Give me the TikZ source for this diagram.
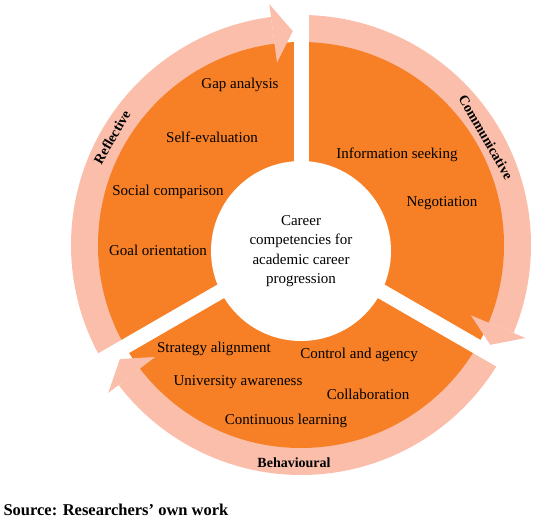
\documentclass[tikz,border=0pt]{standalone}
\usepackage{fontspec}
\setmainfont{Liberation Serif}
\usepackage{xcolor}
\usepackage{tikz}
\definecolor{ringorange}{RGB}{247,128,38}
\definecolor{ringpink}{RGB}{250,190,170}
\tikzset{
    itemtext/.style={font=\fontsize{15}{19}\selectfont, text=black},
    hubtext/.style={font=\fontsize{15}{19.5}\selectfont, align=center},
    ringlabel/.style={font=\fontsize{14}{17}\selectfont\bfseries},
    gapline/.style={draw=white, line width=15pt},
}

\begin{document}
\begin{tikzpicture}[x=1pt, y=1pt]
    \useasboundingbox (0,0) rectangle (540,520);
    \coordinate (hub) at (301,275);

    % pink cycle arrows (bodies)
    \begin{scope}[shift={(hub)}]
        \foreach \s/\e [evaluate=\e as \b using \e+7.5] in {210/90, 90/-30, -30/-150}
            \fill[ringpink] (\s:197) arc[start angle=\s, end angle=\b, radius=197pt]
            -- (\b:230) arc[start angle=\b, end angle=\s, radius=230pt] -- cycle;

        % orange ring and white hub
        \fill[ringorange] (0,0) circle[radius=203pt];
        \fill[white] (0,-6) circle[radius=90pt];

        % gaps between the three sectors
        \foreach \a in {90, -30, 210}
            \draw[gapline] (0,0) -- (\a:250);

        % arrow heads
        \foreach \e [evaluate=\e as \b using \e+7.5, evaluate=\e as \t using \e+2.2] in {90, -30, -150}
            \fill[ringpink] (\b:184) -- (\t:214) -- (\b:243) -- cycle;
    \end{scope}

    % centre
    \node[hubtext] (centre) at (301,269)
        {Career\\competencies for\\academic career\\progression};

    % reflective sector
    \node[ringlabel, rotate=60] (reflective) at (112,383) {Reflective};
    \node[itemtext] (gapanalysis) at (240,435) {Gap analysis};
    \node[itemtext] (selfeval) at (212,383) {Self-evaluation};
    \node[itemtext] (socialcomp) at (168,328) {Social comparison};
    \node[itemtext] (goalorient) at (158,270) {Goal orientation};

    % communicative sector
    \node[ringlabel, rotate=-60] (communicative) at (486,383) {Communicative};
    \node[itemtext] (infoseek) at (397,365) {Information seeking};
    \node[itemtext] (negotiation) at (442,317) {Negotiation};

    % behavioural sector
    \node[ringlabel] (behavioural) at (294,57) {Behavioural};
    \node[itemtext] (strategy) at (214,171) {Strategy alignment};
    \node[itemtext] (control) at (359,165) {Control and agency};
    \node[itemtext] (university) at (238,138) {University awareness};
    \node[itemtext] (collab) at (368,126) {Collaboration};
    \node[itemtext] (learning) at (286,99) {Continuous learning};

    % source line
    \node[font=\fontsize{16.5}{19}\selectfont\bfseries, anchor=west] (source) at (0,10)
        {Source: Researchers’ own work};
\end{tikzpicture}
\end{document}
